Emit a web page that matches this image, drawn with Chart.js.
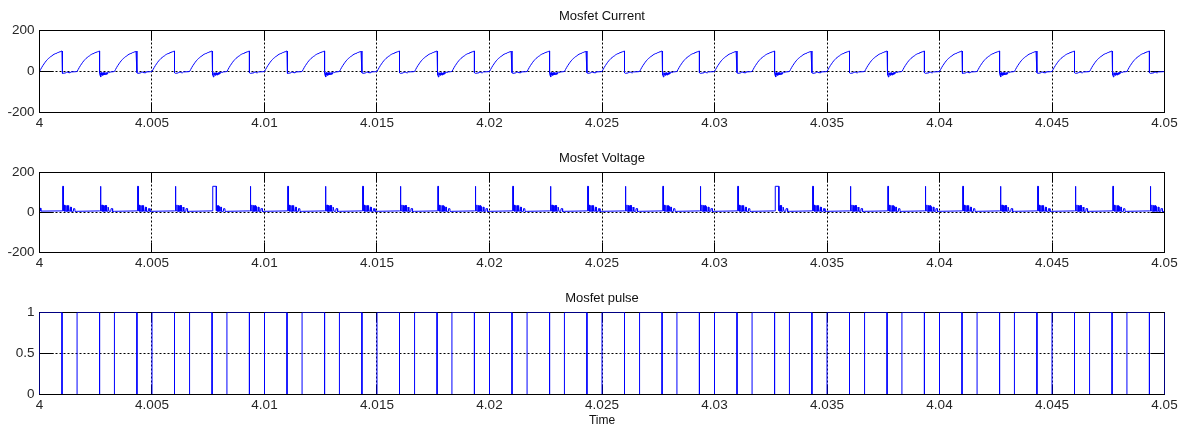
<!DOCTYPE html>
<html>
<head>
<meta charset="utf-8">
<script src="https://cdn.jsdelivr.net/npm/chart.js@4.4.1/dist/chart.umd.min.js"></script>
<style>
  html, body { margin: 0; padding: 0; background: #fff; }
  #wrap { position: relative; width: 1187px; height: 428px; overflow: hidden; background: #fff; }
  canvas { position: absolute; left: 0; }
</style>
</head>
<body>
<div id="wrap">
  <canvas id="cCurrent" width="1187" height="140" style="top:0px"></canvas>
  <canvas id="cVoltage" width="1187" height="140" style="top:140px"></canvas>
  <canvas id="cPulse" width="1187" height="148" style="top:280px"></canvas>
</div>
<script>
// ---------------- data ----------------
const xTicks = [4, 4.005, 4.01, 4.015, 4.02, 4.025, 4.03, 4.035, 4.04, 4.045, 4.05];
const xTickLabels = ['4', '4.005', '4.01', '4.015', '4.02', '4.025', '4.03', '4.035', '4.04', '4.045', '4.05'];

const currentTicks = [-200, 0, 200];
const currentTickLabels = ['-200', '0', '200'];
const voltageTicks = [-200, 0, 200];
const voltageTickLabels = ['-200', '0', '200'];
const pulseTicks = [0, 0.5, 1];
const pulseTickLabels = ['0', '0.5', '1'];

// gate pulse edges (s)
const pulseRise = [4.00000, 4.00167, 4.00333, 4.00500, 4.00667, 4.00833, 4.01000, 4.01167, 4.01333, 4.01500,
                   4.01667, 4.01833, 4.02000, 4.02167, 4.02333, 4.02500, 4.02667, 4.02833, 4.03000, 4.03167,
                   4.03333, 4.03500, 4.03667, 4.03833, 4.04000, 4.04167, 4.04333, 4.04500, 4.04667, 4.04833,
                   4.05000];
const pulseFall = [4.00100, 4.00267, 4.00433, 4.00600, 4.00767, 4.00933, 4.01100, 4.01267, 4.01433, 4.01600,
                   4.01767, 4.01933, 4.02100, 4.02267, 4.02433, 4.02600, 4.02767, 4.02933, 4.03100, 4.03267,
                   4.03433, 4.03600, 4.03767, 4.03933, 4.04100, 4.04267, 4.04433, 4.04600, 4.04767, 4.04933];
const pulseLevels = [0, 1];

// MOSFET current: rise during conduction [time after pulse rise, A]
const currentRamp = [[0, 0], [0.00005, 10], [0.0001, 20], [0.00015, 29], [0.0002, 37], [0.00025, 45],
                     [0.0003, 52], [0.00035, 58], [0.0004, 64], [0.00045, 68], [0.0005, 73], [0.00055, 76],
                     [0.0006, 81], [0.00065, 84], [0.0007, 87], [0.00075, 88], [0.00076, 90], [0.0008, 92],
                     [0.00085, 93], [0.00086, 95], [0.0009, 96], [0.00095, 97], [0.00096, 99]];
// after turn-off [time after pulse fall, A]
const currentOff = [[0, 100], [0, -6], [0.00004, -9], [0.00017, -7], [0.0002, -3], [0.00028, -3],
                    [0.0003, -6], [0.00036, -6], [0.0004, -2], [0.0006, -1]];
const currentDipOff = [[0, 100], [0, -8], [0.00002, -18], [0.00004, -6], [0.00006, -27], [0.00008, -5],
                       [0.0001, -17], [0.00012, -7], [0.00014, -19], [0.00016, -6], [0.00018, -16],
                       [0.0002, -5], [0.00022, -17], [0.00024, -7], [0.00026, -15], [0.00028, -6],
                       [0.0003, -14], [0.00032, -5], [0.00034, -12], [0.00036, -4], [0.0004, -3],
                       [0.00045, -5], [0.0005, -2], [0.0006, -1]];
const currentDipCycles = [1, 4, 7, 10, 13, 16, 19, 22, 25, 28];

// MOSFET voltage
const voltageLead = [[4.0, 22], [4.00004, 22], [4.00006, 7]];
const voltageOn = [[0, 6]];
const voltageOff = [[0, 8], [0.00003, 8], [0.00003, 131], [0.00006, 131], [0.00006, 9], [0.0001, 9],
                    [0.00011, 38], [0.00012, 6], [0.00016, 7], [0.00017, 36], [0.00018, 6], [0.00022, 7],
                    [0.00023, 34], [0.00024, 6], [0.00025, 35], [0.00026, 6], [0.00027, 33], [0.00028, 8],
                    [0.00029, 35], [0.0003, 6], [0.00031, 30], [0.00032, 7], [0.00037, 6], [0.00038, 27],
                    [0.00041, 27], [0.00042, 6], [0.0005, 6], [0.00051, 19], [0.00057, 19], [0.00058, 5],
                    [0.00066, 6]];
const voltageWideOff = [[0, 8], [0.00003, 8], [0.00003, 131], [0.00019, 131], [0.00019, 9], [0.00022, 7],
                        [0.00023, 34], [0.00024, 6], [0.00025, 35], [0.00026, 6], [0.00027, 33], [0.00028, 8],
                        [0.00029, 35], [0.0003, 6], [0.00031, 30], [0.00032, 7], [0.00037, 6], [0.00038, 27],
                        [0.00041, 27], [0.00042, 6], [0.0005, 6], [0.00051, 19], [0.00057, 19], [0.00058, 5],
                        [0.00066, 6]];
const voltageWideCycles = [4, 19];

// ---------------- assemble series ----------------
function buildPulse() {
  const pts = [];
  for (let k = 0; k < pulseFall.length; k++) {
    pts.push({ x: pulseRise[k], y: pulseLevels[0] });
    pts.push({ x: pulseRise[k], y: pulseLevels[1] });
    pts.push({ x: pulseFall[k], y: pulseLevels[1] });
    pts.push({ x: pulseFall[k], y: pulseLevels[0] });
  }
  const last = pulseRise[pulseRise.length - 1];
  pts.push({ x: last, y: pulseLevels[0] });
  pts.push({ x: last, y: pulseLevels[1] });
  return pts;
}
function buildCurrent() {
  const pts = [];
  for (let k = 0; k < pulseFall.length; k++) {
    currentRamp.forEach(([dt, v]) => pts.push({ x: pulseRise[k] + dt, y: v }));
    const off = currentDipCycles.includes(k) ? currentDipOff : currentOff;
    off.forEach(([dt, v]) => pts.push({ x: pulseFall[k] + dt, y: v }));
  }
  pts.push({ x: pulseRise[pulseRise.length - 1], y: 0 });
  return pts;
}
function buildVoltage() {
  const pts = voltageLead.map(([x, y]) => ({ x, y }));
  for (let k = 0; k < pulseFall.length; k++) {
    if (k > 0) voltageOn.forEach(([dt, v]) => pts.push({ x: pulseRise[k] + dt, y: v }));
    const off = voltageWideCycles.includes(k) ? voltageWideOff : voltageOff;
    off.forEach(([dt, v]) => pts.push({ x: pulseFall[k] + dt, y: v }));
  }
  return pts;
}

// ---------------- chart setup ----------------
Chart.defaults.font.family = '"Liberation Sans", Arial, Helvetica, sans-serif';

const matlabAxes = {
  id: 'matlabAxes',
  beforeDatasetsDraw(chart) {
    const { ctx, chartArea: a, scales: { x, y } } = chart;
    const al = p => Math.round(p - 0.5) + 0.5;
    ctx.save();
    ctx.lineWidth = 1;
    ctx.strokeStyle = '#000';
    ctx.setLineDash([2, 2]);
    ctx.beginPath();
    x.ticks.forEach((t, i) => {
      if (i === 0 || i === x.ticks.length - 1) return;
      const px = al(x.getPixelForValue(t.value));
      ctx.moveTo(px, a.top); ctx.lineTo(px, a.bottom);
    });
    y.ticks.forEach((t, i) => {
      if (i === 0 || i === y.ticks.length - 1) return;
      const py = al(y.getPixelForValue(t.value));
      ctx.moveTo(a.left, py); ctx.lineTo(a.right, py);
    });
    ctx.stroke();
    ctx.setLineDash([]);
    ctx.beginPath();
    x.ticks.forEach(t => {
      const px = al(x.getPixelForValue(t.value));
      ctx.moveTo(px, a.top); ctx.lineTo(px, a.top + 10);
      ctx.moveTo(px, a.bottom); ctx.lineTo(px, a.bottom - 10);
    });
    y.ticks.forEach(t => {
      const py = al(y.getPixelForValue(t.value));
      ctx.moveTo(a.left, py); ctx.lineTo(a.left + 14, py);
      ctx.moveTo(a.right, py); ctx.lineTo(a.right - 14, py);
    });
    ctx.stroke();
    ctx.strokeRect(a.left, a.top, a.right - a.left, a.bottom - a.top);
    ctx.restore();
  },
  afterDatasetsDraw(chart, args, opts) {
    const { ctx, chartArea: a } = chart;
    ctx.save();
    ctx.lineWidth = 1;
    ctx.strokeStyle = '#000';
    ctx.setLineDash([]);
    if (opts.fullFrame) {
      ctx.strokeRect(a.left, a.top, a.right - a.left, a.bottom - a.top);
    } else {
      ctx.beginPath();
      ctx.moveTo(a.left, a.bottom); ctx.lineTo(a.right, a.bottom);
      ctx.stroke();
    }
    ctx.restore();
  }
};

function makeChart(id, cfg) {
  return new Chart(document.getElementById(id), {
    type: 'line',
    data: {
      datasets: [{
        data: cfg.points,
        borderColor: '#0000ff',
        borderWidth: 1,
        pointRadius: 0,
        pointHoverRadius: 0,
        tension: 0,
        fill: false
      }]
    },
    options: {
      responsive: false,
      animation: false,
      events: [],
      devicePixelRatio: 1,
      layout: { padding: { left: 0, right: 22.5, top: 0, bottom: 0 } },
      plugins: {
        legend: { display: false },
        tooltip: { enabled: false },
        title: {
          display: true,
          text: cfg.title,
          fullSize: false,
          color: '#111',
          font: { size: 13, weight: 'normal' },
          padding: { top: cfg.titleTop, bottom: 6.5 }
        },
        matlabAxes: { fullFrame: cfg.fullFrame }
      },
      scales: {
        x: {
          type: 'linear',
          min: xTicks[0],
          max: xTicks[xTicks.length - 1],
          grid: { display: false, drawTicks: false },
          border: { display: false },
          afterBuildTicks: s => { s.ticks = xTicks.map(v => ({ value: v })); },
          afterFit: s => { s.height = cfg.xHeight; },
          ticks: {
            callback: (v, i) => xTickLabels[i],
            font: { size: 13.5 },
            color: '#262626',
            padding: 3,
            maxRotation: 0,
            autoSkip: false
          },
          title: cfg.xTitle
            ? { display: true, text: cfg.xTitle, font: { size: 12 }, color: '#111', padding: { top: 0, bottom: 0 } }
            : { display: false }
        },
        y: {
          type: 'linear',
          min: cfg.yTicks[0],
          max: cfg.yTicks[cfg.yTicks.length - 1],
          grid: { display: false, drawTicks: false },
          border: { display: false },
          afterBuildTicks: s => { s.ticks = cfg.yTicks.map(v => ({ value: v })); },
          afterFit: s => { s.width = 39.5; },
          ticks: {
            callback: (v, i) => cfg.yLabels[i],
            font: { size: 13.5 },
            color: '#262626',
            padding: 5
          }
        }
      }
    },
    plugins: [matlabAxes]
  });
}

makeChart('cCurrent', {
  points: buildCurrent(), title: 'Mosfet Current', titleTop: 8.4, xHeight: 27.5,
  yTicks: currentTicks, yLabels: currentTickLabels, fullFrame: true
});
makeChart('cVoltage', {
  points: buildVoltage(), title: 'Mosfet Voltage', titleTop: 10.4, xHeight: 27.5,
  yTicks: voltageTicks, yLabels: voltageTickLabels, fullFrame: true
});
makeChart('cPulse', {
  points: buildPulse(), title: 'Mosfet pulse', titleTop: 10.4, xHeight: 33.5, xTitle: 'Time',
  yTicks: pulseTicks, yLabels: pulseTickLabels, fullFrame: false
});
</script>
</body>
</html>
